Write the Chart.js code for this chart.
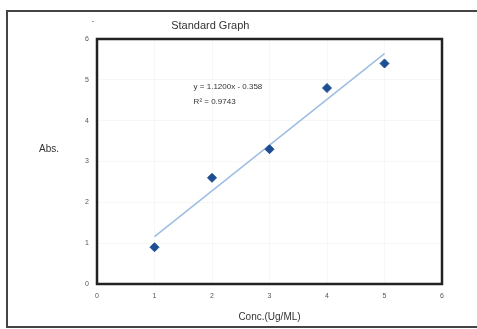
<!DOCTYPE html>
<html>
<head>
<meta charset="utf-8">
<script src="https://cdn.jsdelivr.net/npm/chart.js@4"></script>
<style>
html,body{margin:0;padding:0;background:#fff;}
#wrap{width:477px;height:329px;position:relative;}
</style>
</head>
<body>
<div id="wrap"><canvas id="c" width="477" height="329"></canvas></div>
<script>
const concValues = [1, 2, 3, 4, 5];
const absValues = [0.9, 2.6, 3.3, 4.8, 5.4];
const trendX = [1, 5];
const trendY = [1.16, 5.64];
const tickValues = [0, 1, 2, 3, 4, 5, 6];
const chartTitle = 'Standard Graph';
const xTitle = 'Conc.(Ug/ML)';
const yTitle = 'Abs.';
const eqLines = ['y = 1.1200x - 0.358', 'R\u00B2 = 0.9743'];

const decor = {
  id: 'decor',
  beforeDraw(chart) {
    const ctx = chart.ctx;
    ctx.save();
    ctx.fillStyle = '#fff';
    ctx.fillRect(0, 0, chart.width, chart.height);
    ctx.strokeStyle = '#444';
    ctx.lineWidth = 2;
    ctx.strokeRect(7, 11, 475, 316);
    ctx.restore();
  },
  afterDraw(chart) {
    const ctx = chart.ctx;
    const a = chart.chartArea;
    const xs = chart.scales.x, ys = chart.scales.y;
    ctx.save();
    ctx.strokeStyle = '#222';
    ctx.lineWidth = 2.5;
    ctx.strokeRect(a.left, a.top, a.right - a.left, a.bottom - a.top);
    ctx.fillStyle = '#333';
    ctx.textAlign = 'center';
    ctx.textBaseline = 'middle';
    ctx.font = '11px "Liberation Sans", Arial, sans-serif';
    ctx.fillText(chartTitle, xs.getPixelForValue(1.97), a.top - 13);
    ctx.font = '10px "Liberation Sans", Arial, sans-serif';
    ctx.fillText(xTitle, (a.left + a.right) / 2, a.bottom + 33);
    ctx.fillText(yTitle, 49, ys.getPixelForValue(3.3));
    ctx.textAlign = 'left';
    ctx.font = '8px "Liberation Sans", Arial, sans-serif';
    ctx.fillText(eqLines[0], xs.getPixelForValue(1.68), ys.getPixelForValue(4.82));
    ctx.fillText(eqLines[1], xs.getPixelForValue(1.68), ys.getPixelForValue(4.45));
    ctx.fillStyle = '#999';
    ctx.fillRect(92, 21, 2, 1);
    ctx.restore();
  }
};

new Chart(document.getElementById('c'), {
  type: 'scatter',
  data: {
    datasets: [
      {
        label: 'Trend',
        data: trendX.map((x, i) => ({x: x, y: trendY[i]})),
        showLine: true,
        borderColor: '#9dbee2',
        borderWidth: 1.5,
        pointRadius: 0,
        order: 2
      },
      {
        label: 'Abs',
        data: concValues.map((x, i) => ({x: x, y: absValues[i]})),
        pointStyle: 'rectRot',
        pointRadius: 4.5,
        backgroundColor: '#1d4e93',
        borderColor: '#1d4e93',
        order: 1
      }
    ]
  },
  options: {
    responsive: false,
    animation: false,
    devicePixelRatio: 1,
    layout: {padding: {left: 0, top: 39, right: 35, bottom: 0}},
    plugins: {legend: {display: false}, tooltip: {enabled: false}},
    scales: {
      x: {
        type: 'linear', min: 0, max: 6,
        afterBuildTicks: s => { s.ticks = tickValues.map(v => ({value: v})); },
        afterFit: s => { s.height = 45; },
        grid: {color: 'rgba(0,0,0,0.03)', drawTicks: false},
        border: {display: false},
        ticks: {padding: 8, color: '#555', font: {size: 7, family: '"Liberation Sans", Arial'}}
      },
      y: {
        type: 'linear', min: 0, max: 6,
        afterBuildTicks: s => { s.ticks = tickValues.map(v => ({value: v})); },
        afterFit: s => { s.width = 97; },
        grid: {color: 'rgba(0,0,0,0.03)', drawTicks: false},
        border: {display: false},
        ticks: {padding: 8, color: '#555', font: {size: 7, family: '"Liberation Sans", Arial'}}
      }
    }
  },
  plugins: [decor]
});
</script>
</body>
</html>
